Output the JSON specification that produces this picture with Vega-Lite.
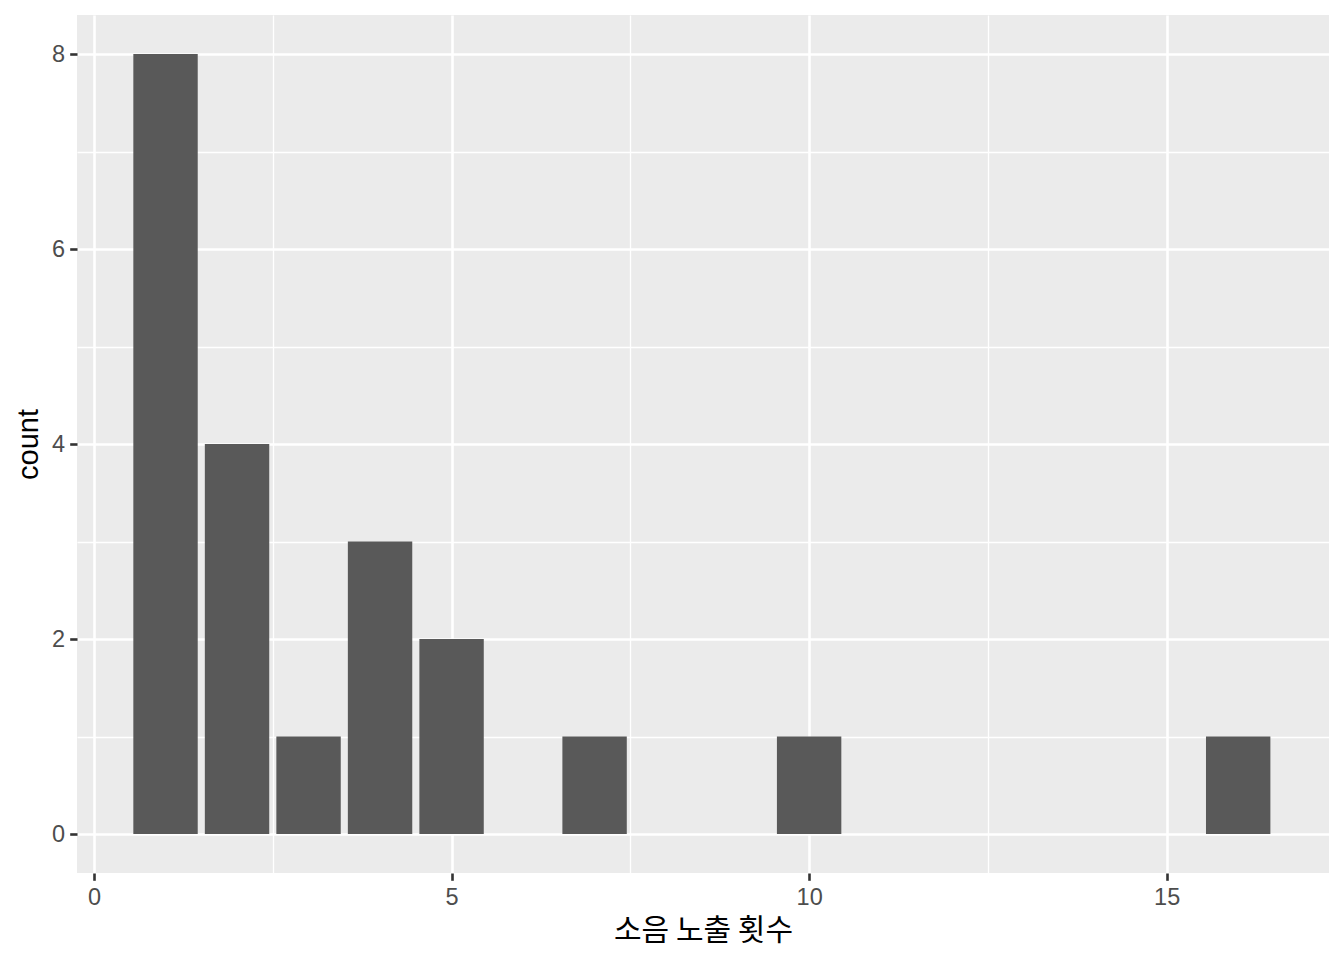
{
  "$schema": "https://vega.github.io/schema/vega-lite/v6.json",
  "width": 1252,
  "height": 858,
  "autosize": {"type": "none"},
  "padding": {"left": 77, "top": 15, "right": 15, "bottom": 87},
  "background": "white",
  "config": {
    "view": {"fill": "#EBEBEB", "stroke": null},
    "axis": {"labelFont": "Liberation Sans", "titleFont": "Liberation Sans"}
  },
  "data": {
    "values": [
      {"x": 1, "count": 8},
      {"x": 2, "count": 4},
      {"x": 3, "count": 1},
      {"x": 4, "count": 3},
      {"x": 5, "count": 2},
      {"x": 7, "count": 1},
      {"x": 10, "count": 1},
      {"x": 16, "count": 1}
    ]
  },
  "layer": [
    {
      "mark": {"type": "bar", "opacity": 0},
      "encoding": {
        "x": {
          "field": "x", "type": "quantitative",
          "scale": {"domain": [-0.238, 17.27], "nice": false, "zero": false, "padding": 0},
          "axis": {"values": [2.5, 7.5, 12.5, 17.5], "grid": true, "gridColor": "white", "gridWidth": 1.3,
                   "labels": false, "ticks": false, "domain": false, "title": null, "orient": "top"}
        },
        "y": {
          "field": "count", "type": "quantitative",
          "scale": {"domain": [-0.4, 8.4], "nice": false, "zero": false, "padding": 0},
          "axis": {"values": [1, 3, 5, 7], "grid": true, "gridColor": "white", "gridWidth": 1.3,
                   "labels": false, "ticks": false, "domain": false, "title": null, "orient": "right"}
        }
      }
    },
    {
      "mark": {"type": "bar", "color": "#595959", "size": 64.4},
      "encoding": {
        "x": {
          "field": "x", "type": "quantitative",
          "axis": {
            "values": [0, 5, 10, 15], "format": "d",
            "grid": true, "gridColor": "white", "gridWidth": 2.6,
            "domain": false, "ticks": true, "tickColor": "#333333", "tickWidth": 2.6, "tickSize": 7.3,
            "labelColor": "#4D4D4D", "labelFontSize": 23.5, "labelPadding": 5, "labelFlush": false,
            "title": "소음 노출 횟수", "titleFont": "Noto Sans CJK KR", "titleFontSize": 30, "titleFontWeight": "normal",
            "titleColor": "black", "titleY": 57, "titleBaseline": "middle"
          }
        },
        "y": {
          "field": "count", "type": "quantitative",
          "axis": {
            "values": [0, 2, 4, 6, 8],
            "grid": true, "gridColor": "white", "gridWidth": 2.6,
            "domain": false, "ticks": true, "tickColor": "#333333", "tickWidth": 2.6, "tickSize": 7.3,
            "labelColor": "#4D4D4D", "labelFontSize": 23.5, "labelPadding": 5, "labelFlush": false,
            "title": "count", "titleFontSize": 29, "titleFontWeight": "normal", "titleColor": "black",
            "titleX": -49, "titleY": 429, "titleAngle": -90, "titleBaseline": "middle", "titleAlign": "center"
          }
        }
      }
    }
  ],
  "resolve": {"axis": {"x": "independent", "y": "independent"}}
}
